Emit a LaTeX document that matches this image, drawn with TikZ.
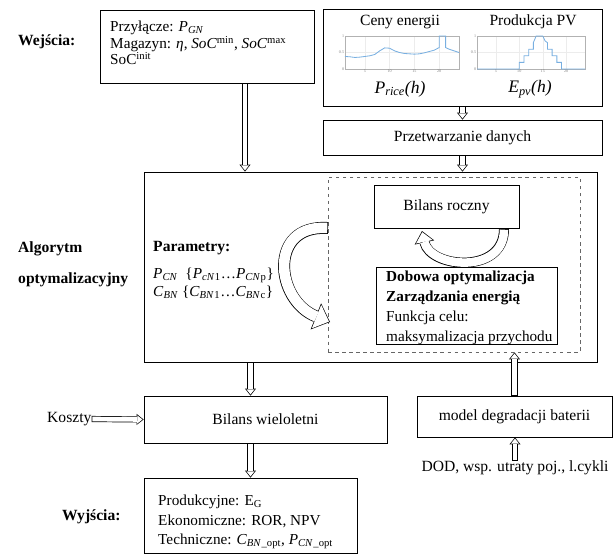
\documentclass[tikz,border=0pt]{standalone}
\usepackage{fontspec}
\setmainfont{Liberation Serif}
\usetikzlibrary{arrows.meta,fit}
\definecolor{plotblue}{RGB}{120,175,225}
\tikzset{
  box/.style={draw,line width=0.7pt,inner sep=0pt},
  txt/.style={inner sep=0pt,anchor=west,align=left},
  tick/.style={inner sep=0.6pt,text=gray,font=\fontsize{3.5}{4}\selectfont},
  plotlabel/.style={inner sep=0pt,font=\fontsize{15}{17}\selectfont},
  % outer shaft, inner shaft, head length, head width, tip inset, inner head length, inner head width
  hollowarrow/.style n args={7}{
    preaction={draw=black,line width=#1,shorten >=0pt,shorten <=0pt,
      -{Triangle[length=#3,width=#4,line width=0pt]}},
    draw=white,line width=#2,shorten <=0.6pt,shorten >=#5,
    -{Triangle[length=#6,width=#7,line width=0pt]}},
  hollow/.style={hollowarrow={5.2pt}{4pt}{6pt}{9.5pt}{1pt}{4.4pt}{7pt}},
  looparrow/.style={hollowarrow={8.5pt}{7.3pt}{10pt}{17pt}{1pt}{8.4pt}{14.5pt}},
  bigarrow/.style={hollowarrow={10.2pt}{9pt}{13pt}{24pt}{0.9pt}{11.5pt}{21.5pt}},
}
\newcommand{\isub}[2]{\textit{#1}\textsubscript{\textit{#2}}}

\begin{document}
\begin{tikzpicture}[x=0.03cm,y=-0.03cm,font=\fontsize{13.3}{15}\selectfont]
  \useasboundingbox (0,0) rectangle (613,554);

  % wejscia
  \node[txt,font=\fontsize{13.3}{15}\selectfont\bfseries] (wej) at (18,42) {Wejścia:};
  \node[box,fit={(100,10) (314,83)}] (inBox) {};
  \node[txt,font=\fontsize{13}{13}\selectfont] (inTxt) at (110,43)
    {Przyłącze: \isub{P}{GN}\\
     Magazyn: \textit{η}, \textit{SoC}\textsuperscript{min}, \textit{SoC}\textsuperscript{max}\\
     SoC\textsuperscript{init}};

  % wykresy
  \node[box,fit={(323,9) (602,106)}] (chartBox) {};
  \node[inner sep=0pt] (cenyT) at (400,22) {Ceny energii};
  \node[inner sep=0pt] (pvT) at (533,22) {Produkcja PV};
  \node[plotlabel] (priceL) at (400,89) {\isub{P}{rice}\textit{(h)}};
  \node[plotlabel] (epvL) at (530,89) {\isub{E}{pv}\textit{(h)}};

  \begin{scope}[shift={(340.04,69)},x=0.1487cm,y=0.99cm]
    \draw[gray!15,line width=0.2pt] (5,0) -- (5,1) (10,0) -- (10,1) (15,0) -- (15,1)
      (20,0) -- (20,1) (1,0.5) -- (24,0.5);
    \draw[gray!60,line width=0.3pt] (1,0) rectangle (24,1);
    \foreach \v in {0,0.5,1} \node[tick,left] (lv\v) at (1,\v) {\v};
    \foreach \h in {5,10,15,20} \node[tick,below] (lh\h) at (\h,0) {\h};
    \draw[plotblue,line width=0.7pt] (1,.38) -- (2,.37) -- (3,.35) -- (4,.36) -- (5,.38)
      -- (6,.40) -- (7,.44) -- (8,.55) -- (9,.64) -- (10,.63) -- (11,.55) -- (12,.50)
      -- (13,.47) -- (14,.46) -- (15,.45) -- (16,.46) -- (17,.49) -- (18,.53) -- (19,.57)
      -- (20,.65) -- (20,1) -- (21.3,1) -- (21.3,.65) -- (22,.6) -- (23,.55) -- (24,.5);
  \end{scope}

  \begin{scope}[shift={(472.3,69)},x=0.1409cm,y=0.99cm]
    \draw[gray!15,line width=0.2pt] (5,0) -- (5,1) (10,0) -- (10,1) (15,0) -- (15,1)
      (20,0) -- (20,1) (1,0.5) -- (24,0.5);
    \draw[gray!60,line width=0.3pt] (1,0) rectangle (24,1);
    \foreach \v in {0,0.5,1} \node[tick,left] (rv\v) at (1,\v) {\v};
    \foreach \h in {5,10,15,20} \node[tick,below] (rh\h) at (\h,0) {\h};
    \draw[plotblue,line width=0.7pt] (1,0) -- (10,0) -- (10,.2) -- (11,.2) -- (11,.4)
      -- (12,.4) -- (12,.6) -- (13,.6) -- (13,.8) -- (13.6,1) -- (15,1) -- (15.5,.85)
      -- (16,.8) -- (16,.6) -- (17,.6) -- (17,.4) -- (18,.4) -- (18,.2) -- (19,.2)
      -- (19,0) -- (24,0);
  \end{scope}

  \node[box,fit={(323,120) (602,155)}] (procBox) {};
  \node[inner sep=0pt] (procTxt) at (procBox.center) {Przetwarzanie danych};

  % algorytm
  \node[txt,font=\fontsize{13.3}{26.5}\selectfont\bfseries] (alg) at (18,264)
    {Algorytm\\optymalizacyjny};
  \node[box,fit={(144,172) (597,362)}] (mainBox) {};
  \node[box,dashed,draw=gray!80!black,fit={(328,177) (580,352)}] (dashBox) {};
  \node[txt,font=\fontsize{13.3}{15}\selectfont\bfseries] (param) at (153,248) {Parametry:};
  \node[txt,font=\fontsize{13}{15.4}\selectfont] (paramTxt) at (153,283)
    {\isub{P}{CN}\ \ \{\isub{P}{cN}\textsubscript{1}\ldots\isub{P}{CN}\textsubscript{p}\}\\
     \isub{C}{BN} \{\isub{C}{BN}\textsubscript{1}\ldots\isub{C}{BN}\textsubscript{c}\}};

  \node[box,fit={(374,185) (519,228)}] (rocznyBox) {};
  \node[inner sep=0pt] (rocznyTxt) at (rocznyBox.center) {Bilans roczny};
  \node[box,fit={(376,267) (557,344)}] (dobBox) {};
  \node[txt,font=\fontsize{13}{17}\selectfont] (dobTxt) at (386,308)
    {\textbf{Dobowa optymalizacja}\\
     \textbf{Zarządzania energią}\\
     Funkcja celu:\\
     maksymalizacja przychodu};

  % wyjscia
  \node[box,fit={(144,396) (387,443)}] (wielBox) {};
  \node[inner sep=0pt] (wielTxt) at (wielBox.center) {Bilans wieloletni};
  \node[txt] (koszty) at (47,419) {Koszty};
  \node[box,fit={(144,478) (357,553)}] (outBox) {};
  \node[txt,font=\fontsize{13.3}{16.6}\selectfont\bfseries] (wyj) at (62,517) {Wyjścia:};
  \node[txt,font=\fontsize{13}{16.6}\selectfont] (outTxt) at (158,522)
    {Produkcyjne: E\textsubscript{G}\\
     Ekonomiczne: ROR, NPV\\
     Techniczne: \isub{C}{BN}\textsubscript{\_opt}, \isub{P}{CN}\textsubscript{\_opt}};

  \node[box,fit={(417,396) (612,437)}] (degBox) {};
  \node[inner sep=0pt] (degTxt) at (degBox.center) {model degradacji baterii};
  \node[inner sep=0pt] (dod) at (515,468) {DOD, wsp. utraty poj., l.cykli};

  % strzalki
  \draw[hollow] ([xshift=1.14cm]inBox.south) -- ([xshift=1.14cm]inBox.south |- mainBox.north);
  \draw[hollow] (chartBox.south) -- (procBox.north);
  \draw[hollow] (procBox.south) -- (procBox.south |- mainBox.north);
  \draw[hollow] (outBox.north |- mainBox.south) -- (outBox.north |- wielBox.north);
  \draw[hollow] (outBox.north |- wielBox.south) -- (outBox.north);
  \draw[hollow] (koszty.east) -- (wielBox.west);
  \draw[hollow] (dod.north) -- (dod.north |- degBox.south);
  \draw[hollow] (degBox.north) -- (degBox.north |- dashBox.south);

  \coordinate (bigA) at (328,228);
  \coordinate (bigB) at (330,322);
  \draw[bigarrow] (bigA) .. controls (268,224) and (275,300) .. (bigB);
  \coordinate (loopA) at (504,229);
  \coordinate (loopB) at (422,231);
  \draw[looparrow] (loopA) .. controls (504,275) and (430,268) .. (loopB);
\end{tikzpicture}
\end{document}
